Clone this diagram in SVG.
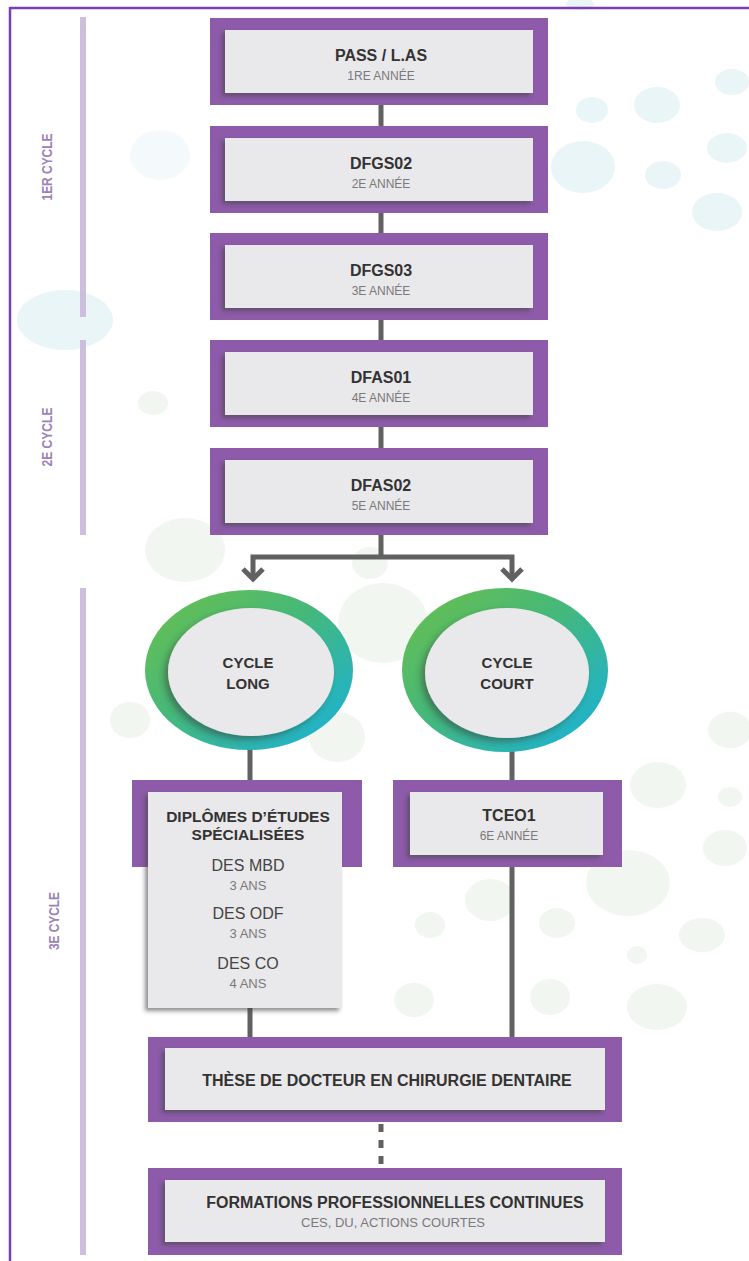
<svg xmlns="http://www.w3.org/2000/svg" width="749" height="1261" viewBox="0 0 749 1261">
<style>
.pur{fill:#8d5ba9;}
.in{fill:#e9e8ea;filter:url(#sh);}
.t{font-family:"Liberation Sans",Arial,sans-serif;font-weight:bold;font-size:16px;fill:#333;text-anchor:middle;}
.s{font-family:"Liberation Sans",Arial,sans-serif;font-size:12px;fill:#7a7a7a;text-anchor:middle;}
.r{font-family:"Liberation Sans",Arial,sans-serif;font-size:16px;fill:#444;text-anchor:middle;}
.side{font-family:"Liberation Sans",Arial,sans-serif;font-weight:bold;font-size:15px;fill:#9a83ba;text-anchor:middle;}
.bar{stroke:#cbbfdc;stroke-width:6;}
.c{stroke:#616161;stroke-width:5;fill:none;}
.bub1{fill:#eaf5f8;}
.bub2{fill:#f1f6f1;}
</style>
<defs>
<filter id="sh" x="-10%" y="-10%" width="120%" height="130%">
<feDropShadow dx="-3" dy="3" stdDeviation="2" flood-color="#444" flood-opacity="0.6"/>
</filter>
<filter id="sh2" x="-10%" y="-10%" width="120%" height="130%">
<feDropShadow dx="-4" dy="4" stdDeviation="3" flood-color="#333" flood-opacity="0.45"/>
</filter>
<linearGradient id="ring" x1="0" y1="0" x2="1" y2="1">
<stop offset="0" stop-color="#6cc04a"/>
<stop offset="0.45" stop-color="#45b87a"/>
<stop offset="1" stop-color="#15b1e0"/>
</linearGradient>
</defs>
<rect width="749" height="1261" fill="#ffffff"/>
<g id="background">
<ellipse class="bub1" cx="657" cy="105" rx="23" ry="18"/>
<ellipse class="bub1" cx="592" cy="110" rx="16" ry="13"/>
<ellipse class="bub1" cx="732" cy="82" rx="17" ry="13"/>
<ellipse class="bub1" cx="583" cy="167" rx="32" ry="26"/>
<ellipse class="bub1" cx="663" cy="175" rx="18" ry="14"/>
<ellipse class="bub1" cx="727" cy="148" rx="20" ry="15"/>
<ellipse class="bub1" cx="717" cy="212" rx="25" ry="19"/>
<ellipse class="bub1" cx="580" cy="4" rx="14" ry="6"/>
<ellipse class="bub1" cx="160" cy="155" rx="30" ry="25" opacity="0.5"/>
<ellipse class="bub1" cx="65" cy="320" rx="48" ry="30"/>
<ellipse class="bub2" cx="153" cy="403" rx="15" ry="12"/>
<ellipse class="bub2" cx="185" cy="550" rx="40" ry="32"/>
<ellipse class="bub2" cx="370" cy="563" rx="18" ry="16"/>
<ellipse class="bub2" cx="383" cy="623" rx="45" ry="40"/>
<ellipse class="bub2" cx="130" cy="720" rx="20" ry="18"/>
<ellipse class="bub2" cx="337" cy="737" rx="28" ry="25"/>
<ellipse class="bub2" cx="730" cy="730" rx="22" ry="18"/>
<ellipse class="bub2" cx="658" cy="785" rx="28" ry="23"/>
<ellipse class="bub2" cx="730" cy="797" rx="12" ry="10"/>
<ellipse class="bub2" cx="725" cy="848" rx="22" ry="18"/>
<ellipse class="bub2" cx="628" cy="883" rx="42" ry="33"/>
<ellipse class="bub2" cx="557" cy="923" rx="18" ry="15"/>
<ellipse class="bub2" cx="702" cy="935" rx="23" ry="17"/>
<ellipse class="bub2" cx="637" cy="955" rx="10" ry="9"/>
<ellipse class="bub2" cx="550" cy="997" rx="20" ry="18"/>
<ellipse class="bub2" cx="657" cy="1007" rx="30" ry="23"/>
<ellipse class="bub2" cx="490" cy="900" rx="25" ry="21"/>
<ellipse class="bub2" cx="430" cy="925" rx="15" ry="13"/>
<ellipse class="bub2" cx="414" cy="1000" rx="20" ry="17"/>
</g>
<g id="frame">
<line x1="10" y1="8" x2="749" y2="8" stroke="#7a3fb3" stroke-width="2.5"/>
<line x1="10" y1="7" x2="10" y2="1261" stroke="#7a3fb3" stroke-width="2.5"/>
<line class="bar" x1="83" y1="17" x2="83" y2="317"/>
<line class="bar" x1="83" y1="340" x2="83" y2="535"/>
<line class="bar" x1="83" y1="588" x2="83" y2="1255"/>
<text class="side" transform="translate(52,167) rotate(-90)" textLength="67" lengthAdjust="spacingAndGlyphs">1ER CYCLE</text>
<text class="side" transform="translate(52,437) rotate(-90)" textLength="59" lengthAdjust="spacingAndGlyphs">2E CYCLE</text>
<text class="side" transform="translate(59,921) rotate(-90)" textLength="58" lengthAdjust="spacingAndGlyphs">3E CYCLE</text>
</g>
<g id="connectors">
<line class="c" x1="381" y1="104" x2="381" y2="127"/>
<line class="c" x1="381" y1="212" x2="381" y2="234"/>
<line class="c" x1="381" y1="319" x2="381" y2="341"/>
<line class="c" x1="381" y1="426" x2="381" y2="449"/>
<polyline class="c" points="381,534 381,557"/>
<polyline class="c" points="253,578 253,557 512,557 512,578"/>
<polyline class="c" points="243,569 253,579 263,569"/>
<polyline class="c" points="502,569 512,579 522,569"/>
<line class="c" x1="250" y1="745" x2="250" y2="781"/>
<line class="c" x1="512" y1="748" x2="512" y2="781"/>
<line class="c" x1="250" y1="1005" x2="250" y2="1038"/>
<line class="c" x1="512" y1="866" x2="512" y2="1038"/>
<line x1="381" y1="1124" x2="381" y2="1168" stroke="#616161" stroke-width="5" stroke-dasharray="8,8"/>
</g>
<g id="pass">
<rect class="pur" x="210" y="18" width="338" height="87"/>
<rect class="in" x="225" y="30" width="308" height="63"/>
<text class="t" x="381" y="61">PASS / L.AS</text>
<text class="s" x="381" y="80">1RE ANNÉE</text>
</g>
<g id="dfgs02">
<rect class="pur" x="210" y="126" width="338" height="87"/>
<rect class="in" x="225" y="138" width="308" height="63"/>
<text class="t" x="381" y="169">DFGS02</text>
<text class="s" x="381" y="188">2E ANNÉE</text>
</g>
<g id="dfgs03">
<rect class="pur" x="210" y="233" width="338" height="87"/>
<rect class="in" x="225" y="245" width="308" height="63"/>
<text class="t" x="381" y="276">DFGS03</text>
<text class="s" x="381" y="295">3E ANNÉE</text>
</g>
<g id="dfas01">
<rect class="pur" x="210" y="340" width="338" height="87"/>
<rect class="in" x="225" y="352" width="308" height="63"/>
<text class="t" x="381" y="383">DFAS01</text>
<text class="s" x="381" y="402">4E ANNÉE</text>
</g>
<g id="dfas02">
<rect class="pur" x="210" y="448" width="338" height="87"/>
<rect class="in" x="225" y="460" width="308" height="63"/>
<text class="t" x="381" y="491">DFAS02</text>
<text class="s" x="381" y="510">5E ANNÉE</text>
</g>
<g id="cycle-long">
<ellipse cx="249" cy="670" rx="104" ry="80" fill="url(#ring)"/>
<ellipse cx="251" cy="672" rx="83" ry="64" fill="#e9e8ea" filter="url(#sh2)"/>
<text class="t" x="248" y="668" style="font-size:15px">CYCLE</text>
<text class="t" x="248" y="689" style="font-size:15px">LONG</text>
</g>
<g id="cycle-court">
<ellipse cx="505" cy="670" rx="103" ry="82" fill="url(#ring)"/>
<ellipse cx="507" cy="673" rx="82" ry="65" fill="#e9e8ea" filter="url(#sh2)"/>
<text class="t" x="507" y="668" style="font-size:15px">CYCLE</text>
<text class="t" x="507" y="689" style="font-size:15px">COURT</text>
</g>
<g id="des">
<rect class="pur" x="132" y="780" width="230" height="87"/>
<rect class="in" x="148" y="792" width="194" height="216"/>
<text class="t" x="248" y="822" style="font-size:15.5px">DIPLÔMES D’ÉTUDES</text>
<text class="t" x="248" y="840" style="font-size:15.5px">SPÉCIALISÉES</text>
<text class="r" x="248" y="871">DES MBD</text>
<text class="s" x="248" y="890" style="font-size:13px">3 ANS</text>
<text class="r" x="248" y="919">DES ODF</text>
<text class="s" x="248" y="938" style="font-size:13px">3 ANS</text>
<text class="r" x="248" y="969">DES CO</text>
<text class="s" x="248" y="988" style="font-size:13px">4 ANS</text>
</g>
<g id="tceo1">
<rect class="pur" x="393" y="780" width="229" height="87"/>
<rect class="in" x="410" y="792" width="193" height="63"/>
<text class="t" x="509" y="821">TCEO1</text>
<text class="s" x="509" y="840">6E ANNÉE</text>
</g>
<g id="these">
<rect class="pur" x="148" y="1037" width="474" height="85"/>
<rect class="in" x="165" y="1048" width="440" height="62"/>
<text class="t" x="387" y="1086">THÈSE DE DOCTEUR EN CHIRURGIE DENTAIRE</text>
</g>
<g id="formations">
<rect class="pur" x="148" y="1168" width="474" height="87"/>
<rect class="in" x="165" y="1180" width="440" height="62"/>
<text class="t" x="395" y="1208">FORMATIONS PROFESSIONNELLES CONTINUES</text>
<text class="s" x="393" y="1227" style="font-size:13px">CES, DU, ACTIONS COURTES</text>
</g>
</svg>
